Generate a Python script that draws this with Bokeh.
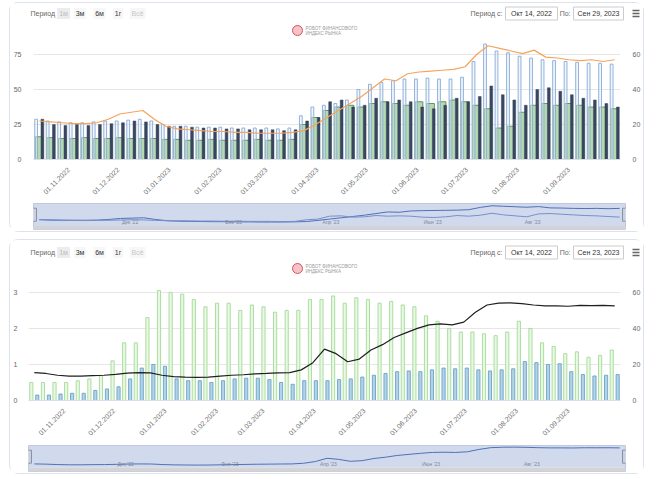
import math
import pandas as pd
from bokeh.plotting import figure
from bokeh.layouts import column
from bokeh.models import (Range1d, LinearAxis, FixedTicker, ColumnDataSource,
                          BoxAnnotation, DatetimeTickFormatter)
from bokeh.transform import dodge
from bokeh.core.properties import value
from bokeh.embed import file_html
from bokeh.resources import INLINE

# ---------------- data ----------------
week_start = "2022-10-14"
n_weeks = 51
weeks = pd.date_range(week_start, periods=n_weeks, freq="7D")

# top chart (values on the 0-60 scale)
top_line = [22, 21.5, 21, 20.5, 20.5, 21, 23, 26, 27, 28,
            23, 19, 17.5, 17, 16.5, 16, 16, 15.5, 15.5, 15,
            15, 15, 15.5, 16.5, 20, 24, 28, 32, 36, 41,
            46, 45, 49, 50, 50.5, 51, 51.5, 53, 60, 65,
            63.5, 62, 60.5, 62.5, 58.5, 58, 57, 56.5, 57, 56, 57]
top_blue = [23, 22, 21.5, 21, 21, 21.5, 22, 22, 22.5, 23,
            22, 20, 19, 19, 18.5, 18.5, 18.5, 18, 18, 18,
            18, 17.5, 18, 25, 30, 31, 32, 34, 40, 43,
            44, 45, 46, 46, 46.5, 46, 46, 47, 56, 66,
            62, 61, 59, 58, 57, 56.5, 56, 55.5, 55, 55, 54.5]
top_navy = [23, 20, 19.5, 20, 19.5, 20, 20.5, 21, 22, 21.5,
            20, 19, 19, 18.5, 18, 18, 17.5, 17.5, 17, 17,
            17, 16.5, 17, 22, 24, 33, 34, 30, 31, 35,
            33, 34, 33, 30, 29, 31, 35, 33, 36, 42,
            37, 34, 31, 40, 41, 39, 37, 35, 34, 32, 30]
top_green = [13, 12.5, 12, 12, 12.5, 12, 12, 12.5, 12, 12,
             12, 11.5, 11.5, 11, 11, 11.5, 11, 11, 11, 11.5,
             11, 11, 11.5, 20, 24, 28, 30, 31, 30, 32,
             33, 32, 31, 33, 32, 33, 34, 33, 31, 29,
             18, 19, 27, 31, 32, 31, 32, 31, 30, 30, 29]
top_left_ticks = [0, 25, 50, 75]
top_right_ticks = [0, 20, 40, 60]

# bottom chart
bot_green = [0.5, 0.5, 0.5, 0.5, 0.55, 0.6, 0.7, 1.1, 1.6, 1.6,
             2.3, 3.05, 3.0, 2.95, 2.8, 2.6, 2.7, 2.7, 2.5, 2.65,
             2.6, 2.45, 2.5, 2.5, 2.8, 2.8, 2.9, 2.7, 2.85, 2.8,
             2.7, 2.75, 2.65, 2.6, 2.35, 2.2, 2.0, 1.9, 1.9, 1.85,
             1.8, 1.9, 2.2, 2.0, 1.6, 1.5, 1.3, 1.35, 1.2, 1.25, 1.4]
bot_blue = [0.15, 0.15, 0.18, 0.2, 0.2, 0.28, 0.32, 0.38, 0.6, 0.9,
            1.0, 0.95, 0.6, 0.55, 0.55, 0.5, 0.55, 0.6, 0.62, 0.62,
            0.58, 0.5, 0.45, 0.55, 0.55, 0.55, 0.58, 0.6, 0.65, 0.7,
            0.75, 0.8, 0.82, 0.8, 0.85, 0.9, 0.88, 0.9, 0.85, 0.82,
            0.85, 0.88, 1.08, 1.05, 1.0, 1.02, 0.8, 0.72, 0.68, 0.7, 0.72]
bot_line = [15.5, 15, 14, 13.5, 13.5, 13.8, 14, 14.5, 15.2, 15.5,
            15.3, 14, 13.3, 13, 12.8, 13, 13.5, 14, 14.3, 14.8,
            15, 15.3, 15.5, 17, 21, 28.5, 26, 21.5, 23, 28,
            31, 35, 37.5, 40, 42, 42.5, 42, 43.5, 49, 53,
            54, 54.2, 53.8, 53, 52.5, 52.5, 52.3, 52.8, 52.7, 52.8, 52.5]
bot_left_ticks = [0, 1, 2, 3]
bot_right_ticks = [0, 20, 40, 60]

x_tick_dates = ["2022-11-01", "2022-12-01", "2023-01-01", "2023-02-01",
                "2023-03-01", "2023-04-01", "2023-05-01", "2023-06-01",
                "2023-07-01", "2023-08-01", "2023-09-01"]
nav_tick_dates = ["2022-12-01", "2023-02-01", "2023-04-01", "2023-06-01", "2023-08-01"]
nav_tick_labels = ["Дек '22", "Фев '23", "Апр '23", "Июн '23", "Авг '23"]

range_buttons = ["1м", "3м", "6м", "1г", "Всё"]
top_dates = ["Окт 14, 2022", "Сен 29, 2023"]
bot_dates = ["Окт 14, 2022", "Сен 23, 2023"]
logo_lines = ["РОБОТ ФИНАНСОВОГО", "ИНДЕКС  РЫНКА"]

# ---------------- styling ----------------
FONT = "Liberation Sans"
W = 633
DAY = 86400000
x_lo = weeks[0] - pd.Timedelta(days=3.5)
x_hi = weeks[-1] + pd.Timedelta(days=3.5)
tick_ms = [pd.Timestamp(d).value // 10**6 for d in x_tick_dates]
fmt = "%d.%m.%Y"
PANEL = {"box-shadow": "0 0 0 1px #dde2ed", "border-radius": "8px",
         "background-color": "white"}


def fig(**kw):
    return figure(toolbar_location=None, output_backend="svg", title=None,
                  frame_align=False, **kw)


def style_axis(ax, standoff):
    ax.axis_line_color = None
    ax.major_tick_line_color = None
    ax.minor_tick_line_color = None
    ax.major_label_text_font = FONT
    ax.major_label_text_font_size = "7px"
    ax.major_label_text_color = "#666666"
    ax.major_label_standoff = standoff


def style_xaxis(p):
    ax = p.xaxis[0]
    ax.ticker = FixedTicker(ticks=tick_ms)
    ax.formatter = DatetimeTickFormatter(days=fmt, months=fmt, years=fmt)
    ax.major_label_orientation = math.pi / 4
    ax.axis_line_color = "#d9deea"
    ax.major_tick_line_color = None
    ax.minor_tick_line_color = None
    ax.major_label_text_font = FONT
    ax.major_label_text_font_size = "7px"
    ax.major_label_text_color = "#707070"
    ax.major_label_standoff = 3


def header(dates, hgt, yb, ylogo):
    h = fig(width=W, height=hgt, x_range=Range1d(0, W), y_range=Range1d(hgt, 0),
            min_border=0, x_axis_location=None, y_axis_location=None)
    h.grid.visible = False
    h.outline_line_color = None
    tf = value(FONT)
    h.text(x=[20], y=[yb], text=["Период"], text_font=tf, text_font_size="7px",
           text_color="#666666", text_align="left", text_baseline="middle")
    bx = [53, 69.5, 89, 107.5, 127]
    h.rect(x=bx, y=[yb] * 5, width=[13, 12, 12, 10, 16], height=11,
           fill_color=["#ececec", "#f7f7f7", "#f7f7f7", "#f7f7f7", "#f7f7f7"], line_color=None)
    h.text(x=bx, y=[yb] * 5, text=range_buttons, text_font=tf, text_font_size="7px",
           text_color=["#bdbdbd", "#333333", "#333333", "#333333", "#c8c8c8"],
           text_align="center", text_baseline="middle")
    h.text(x=[492], y=[yb], text=["Период с:"], text_font=tf, text_font_size="7px",
           text_color="#666666", text_align="right", text_baseline="middle")
    h.text(x=[560], y=[yb], text=["По:"], text_font=tf, text_font_size="7px",
           text_color="#666666", text_align="right", text_baseline="middle")
    h.rect(x=[521, 588], y=[yb, yb], width=[52, 50], height=13,
           fill_color="white", line_color="#cccccc", line_width=1)
    h.text(x=[521, 588], y=[yb, yb], text=dates, text_font=tf, text_font_size="7px",
           text_color="#333333", text_align="center", text_baseline="middle")
    h.segment(x0=[622] * 3, x1=[629] * 3, y0=[yb - 3, yb, yb + 3], y1=[yb - 3, yb, yb + 3],
              line_color="#666666", line_width=1.5)
    # logo
    h.scatter(x=[287], y=[ylogo], size=10, marker="circle", fill_color="#f4c2c8",
              line_color="#d9534f", line_width=1)
    h.text(x=[295, 295], y=[ylogo - 2.5, ylogo + 3], text=logo_lines, text_font=tf,
           text_font_size="4.5px", text_color="#999999", text_align="left",
           text_baseline="middle")
    return h


def navigator(xr, series, colors, y_lo, y_hi, floor, left, right):
    n = fig(width=W, height=30, x_range=xr, y_range=Range1d(y_lo, y_hi),
            min_border_left=left, min_border_right=right, min_border_top=2,
            min_border_bottom=2, x_axis_location=None, y_axis_location=None)
    n.grid.visible = False
    n.outline_line_color = "#c8cee0"
    n.add_layout(BoxAnnotation(bottom=floor, fill_color="#6685c2", fill_alpha=0.3,
                               line_color=None))
    n.add_layout(BoxAnnotation(top=floor, fill_color="#d4d4d4", fill_alpha=1,
                               line_color=None))
    for s, c in zip(series, colors):
        n.line(weeks, s, line_color=c, line_width=1)
    n.text(x=pd.to_datetime(nav_tick_dates), y=[floor] * len(nav_tick_dates),
           text=nav_tick_labels, x_offset=3, y_offset=-1, text_font=value(FONT),
           text_font_size="5px", text_color="#8a8a8a", text_align="left",
           text_baseline="bottom")
    mid = (floor + y_hi) / 2
    n.rect(x=[x_lo, x_hi], y=[mid, mid], width=6, height=13, width_units="screen",
           height_units="screen", fill_color="#f2f2f2", line_color="#999999")
    return n


# ---------------- top panel ----------------
src1 = ColumnDataSource(dict(x=weeks, line=top_line, blue=top_blue, navy=top_navy,
                             green=top_green))
p1 = fig(width=W, height=161, x_axis_type="datetime", x_range=Range1d(x_lo, x_hi),
         y_range=Range1d(0, 68), y_axis_location="right",
         min_border_left=20, min_border_right=16, min_border_top=0, min_border_bottom=42)
p1.outline_line_color = None
p1.extra_y_ranges = {"left": Range1d(0, 85)}
p1.add_layout(LinearAxis(y_range_name="left"), "left")
p1.right[0].ticker = FixedTicker(ticks=top_right_ticks)
p1.left[0].ticker = FixedTicker(ticks=top_left_ticks)
style_axis(p1.right[0], 6)
style_axis(p1.left[0], 6)
style_xaxis(p1)
p1.xgrid.visible = False
p1.ygrid.ticker = FixedTicker(ticks=top_right_ticks)
p1.ygrid.grid_line_color = "#e6e6e6"

p1.vbar(x="x", top="green", width=4.6 * DAY, source=src1, fill_color="#aed6a6",
        fill_alpha=0.9, line_color="#467f42", line_width=0.8)
p1.vbar(x=dodge("x", -1.9 * DAY, range=p1.x_range), top="blue", width=1.7 * DAY,
        source=src1, fill_color="#e3ecf8", fill_alpha=0.45, line_color="#86aad8",
        line_width=0.9)
p1.vbar(x=dodge("x", 1.9 * DAY, range=p1.x_range), top="navy", width=1.7 * DAY,
        source=src1, fill_color="#38465f", line_color="#38465f", line_width=0.5)
p1.line(x="x", y="line", source=src1, line_color="#f7a35c", line_width=1.2)

n1 = navigator(p1.x_range, [top_line, top_navy], ["#4767b4", "#7f93cf"],
               -8, 72, 3, 23, 18)
panel1 = column(header(top_dates, 37, 10, 27), p1, n1, width=W, height=228,
                styles=PANEL)

# ---------------- bottom panel ----------------
src2 = ColumnDataSource(dict(x=weeks, green=bot_green, blue=bot_blue, line=bot_line))
p2 = fig(width=W, height=163, x_axis_type="datetime", x_range=Range1d(x_lo, x_hi),
         y_range=Range1d(0, 3.33), min_border_left=15, min_border_right=16,
         min_border_top=0, min_border_bottom=43)
p2.outline_line_color = None
p2.extra_y_ranges = {"right": Range1d(0, 66.6)}
p2.add_layout(LinearAxis(y_range_name="right"), "right")
p2.left[0].ticker = FixedTicker(ticks=bot_left_ticks)
p2.right[0].ticker = FixedTicker(ticks=bot_right_ticks)
style_axis(p2.left[0], 5)
style_axis(p2.right[0], 6)
style_xaxis(p2)
p2.xgrid.visible = False
p2.ygrid.ticker = FixedTicker(ticks=bot_left_ticks)
p2.ygrid.grid_line_color = "#e6e6e6"

p2.vbar(x=dodge("x", -1.8 * DAY, range=p2.x_range), top="green", width=1.9 * DAY,
        source=src2, fill_color="#e9f8e4", line_color="#a3da96", line_width=0.9)
p2.vbar(x=dodge("x", 1.8 * DAY, range=p2.x_range), top="blue", width=1.9 * DAY,
        source=src2, fill_color="#b3d3e6", line_color="#6aa3c9", line_width=0.9)
p2.line(x="x", y="line", source=src2, y_range_name="right", line_color="#1f1f1f",
        line_width=1.2)

n2 = navigator(p2.x_range, [bot_line], ["#4767b4"], -2, 58, 6.5, 18, 18)
panel2 = column(header(bot_dates, 40, 12, 28), p2, n2, width=W, height=233,
                styles=PANEL)

page = column(panel1, panel2, spacing=9, margin=(3, 0, 0, 10))
open("out.html", "w").write(file_html(page, INLINE))
